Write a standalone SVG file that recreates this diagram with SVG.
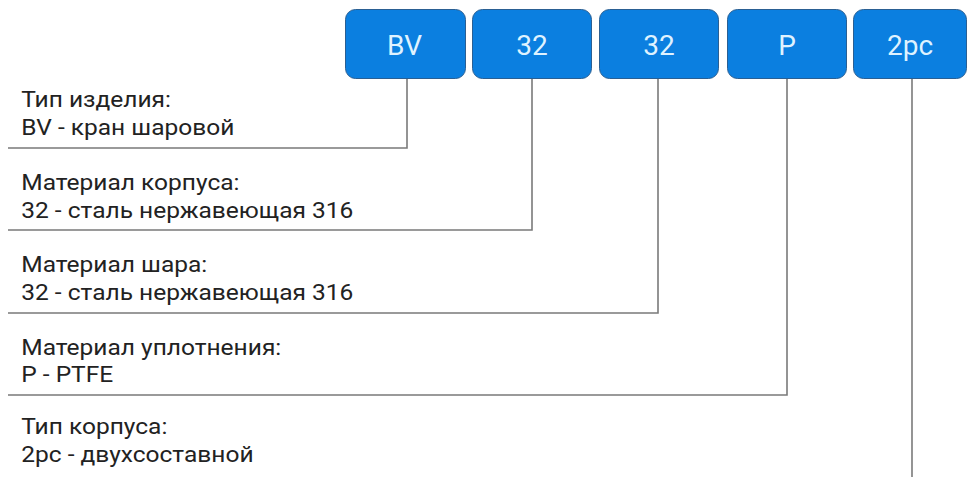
<svg xmlns="http://www.w3.org/2000/svg" width="967" height="477" viewBox="0 0 967 477">
<style>
.box{fill:#0b7fe0;stroke:#2a5f93;stroke-width:1}
.bt{font-family:Roboto,"Liberation Sans",sans-serif;font-size:28px;fill:#dff2ff;text-anchor:middle}
.lt{font-family:Roboto,"Liberation Sans",sans-serif;font-size:22.5px;fill:#222}
.ln{fill:none;stroke:#7a7a7a;stroke-width:1.6}
</style>
<rect width="967" height="477" fill="#fff"/>
<g id="node-bv"><rect class="box" x="345.5" y="9.5" width="120" height="69" rx="10"/><text class="bt" x="404.5" y="55">BV</text></g>
<g id="node-32a"><rect class="box" x="472.5" y="9.5" width="119" height="69" rx="10"/><text class="bt" x="532" y="55">32</text></g>
<g id="node-32b"><rect class="box" x="599.5" y="9.5" width="119" height="69" rx="10"/><text class="bt" x="659" y="55">32</text></g>
<g id="node-p"><rect class="box" x="727.5" y="9.5" width="119" height="69" rx="10"/><text class="bt" x="787" y="55">P</text></g>
<g id="node-2pc"><rect class="box" x="853.5" y="9.5" width="113" height="69" rx="10"/><text class="bt" x="910" y="55">2pc</text></g>
<g id="labels" transform="scale(1.09,1)">
<text class="lt" x="19.5" y="107">Тип изделия:</text>
<text class="lt" x="19.5" y="135">BV - кран шаровой</text>
<text class="lt" x="19.5" y="190">Материал корпуса:</text>
<text class="lt" x="19.5" y="218">32 - сталь нержавеющая 316</text>
<text class="lt" x="19.5" y="272">Материал шара:</text>
<text class="lt" x="19.5" y="300">32 - сталь нержавеющая 316</text>
<text class="lt" x="19.5" y="355">Материал уплотнения:</text>
<text class="lt" x="19.5" y="382">P - PTFE</text>
<text class="lt" x="19.5" y="434">Тип корпуса:</text>
<text class="lt" x="19.5" y="462">2pc - двухсоставной</text>
</g>
<g id="connectors">
<polyline class="ln" points="407,79 407,148 8,148"/>
<polyline class="ln" points="532,79 532,230 8,230"/>
<polyline class="ln" points="658,79 658,313 8,313"/>
<polyline class="ln" points="787,79 787,395 8,395"/>
<polyline class="ln" points="912,79 912,477"/>
</g>
</svg>
